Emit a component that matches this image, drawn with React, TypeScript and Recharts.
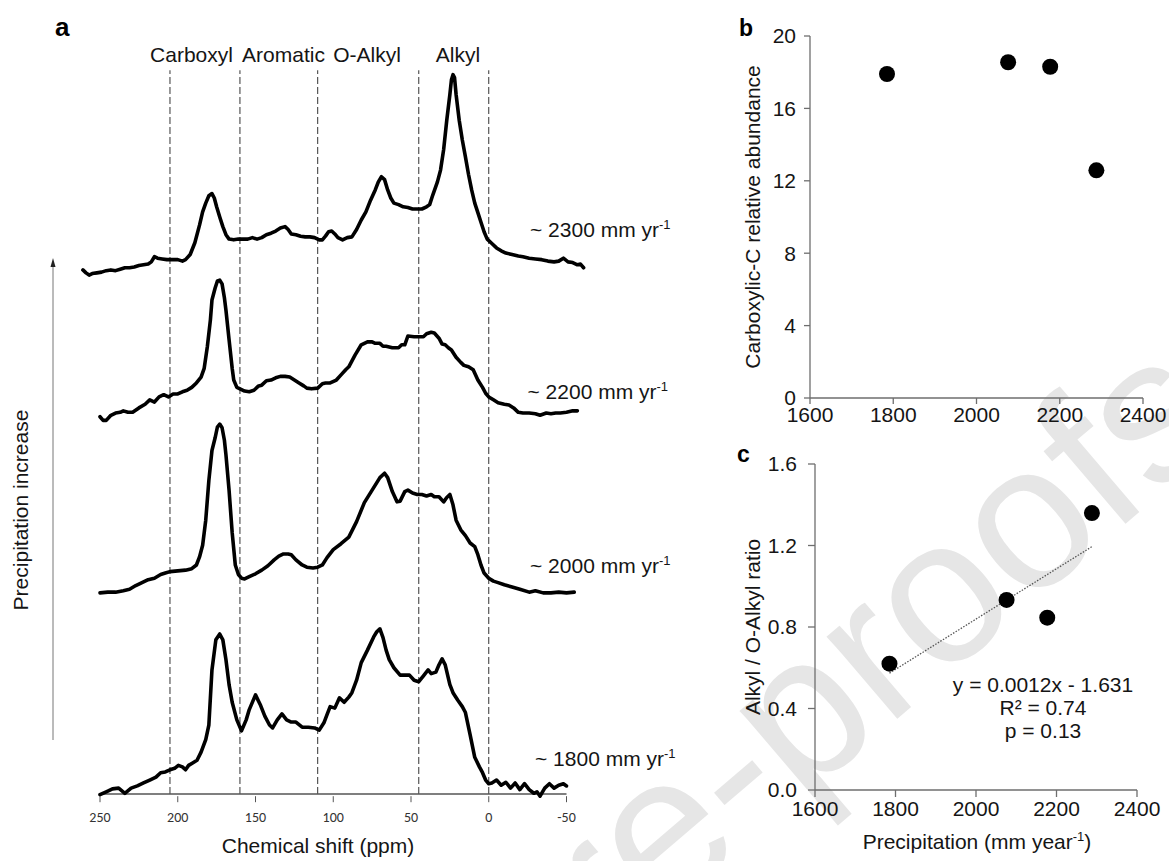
import React from 'react';
import { LineChart, Line, XAxis, YAxis, ReferenceLine, ScatterChart, Scatter } from 'recharts';

const SANS = '"Liberation Sans", Arial, Helvetica, sans-serif';
const TICK_FONT = 'Carlito, Lato, "Liberation Sans", sans-serif';

type Pt = [number, number];

// 13C CPMAS NMR spectra: [chemical shift (ppm), intensity (a.u.)]
const spectrum1800: Pt[] = [
  [250, -1.1], [246, -0.7], [242, -0.3], [238, -0.2], [234, -0.9], [230, -0.2], [226, 0.1], [222, 0.5],
  [218, 0.9], [214, 1.3], [211, 1.9], [208, 2.0], [205, 2.3], [202, 2.5], [199.6, 2.9], [197, 2.7],
  [195, 2.3], [193, 2.9], [190.7, 3.2], [187.6, 3.6], [185, 4.7], [182, 6.4], [180, 8.4], [178, 15.9],
  [175.5, 20.0], [173, 20.8], [171, 20.0], [169, 17.3], [167, 13.9], [165, 11.5], [162, 9.1], [159, 7.6],
  [156, 9.1], [154, 10.5], [150, 12.5], [147, 11.2], [144, 9.6], [141, 8.4], [139, 8.0], [136, 9.1],
  [133, 9.9], [130, 9.1], [127, 8.8], [124, 8.8], [120, 8.1], [116, 8.1], [112, 8.0], [109, 7.7],
  [106, 8.7], [104, 9.8], [102, 10.9], [99, 10.7], [96, 12.1], [93, 11.5], [90, 12.2], [88, 12.8],
  [85, 14.5], [82, 16.9], [78, 18.6], [74, 20.4], [72, 21.1], [70, 21.5], [68, 20.3], [66, 18.6],
  [64, 17.3], [61, 16.2], [57, 15.2], [54, 15.2], [51, 15.2], [48, 14.5], [45, 14.3], [42, 15.1],
  [39, 15.9], [37, 15.4], [34, 15.6], [32, 16.6], [30, 17.4], [28, 16.6], [25, 13.9], [23, 12.8],
  [20, 11.8], [17, 10.9], [15, 10.1], [12, 7.1], [9, 4.0], [6, 2.7], [4, 1.9], [2, 0.9],
  [0, 0.4], [-2, 0.5], [-5, 0.9], [-8, 0.2], [-11, 0.6], [-14, -0.2], [-17, 0.5], [-20, -0.4],
  [-23, 0.4], [-26, -0.4], [-29, -0.9], [-31, -0.7], [-33, -1.3], [-36, -0.2], [-39, 0.4], [-42, -0.2],
  [-45, 0.2], [-48, 0.4], [-50, 0.1],
];

const spectrum2000: Pt[] = [
  [250, 0], [245, 0.1], [240, 0.1], [235, 0.3], [231, 0.5], [227, 1.0], [223, 1.4], [219, 1.8],
  [215, 2.0], [211, 2.5], [208, 2.7], [205, 2.9], [200, 3.0], [195, 3.1], [191, 3.3], [188, 3.8],
  [186, 4.9], [184, 6.5], [182, 9.9], [180, 15.3], [178, 19.4], [176, 21.1], [174.5, 22.6], [173, 23.0],
  [171.5, 22.5], [170, 20.8], [169, 18.8], [167, 14.0], [165, 8.2], [163, 3.8], [161, 2.5], [159, 2.0],
  [157, 1.9], [154, 2.2], [150, 2.6], [146, 3.1], [142, 3.7], [138, 4.5], [135, 5.0], [132, 5.3],
  [129, 5.3], [127, 5.2], [124, 4.5], [120, 3.8], [117, 3.5], [113, 3.4], [110, 3.5], [107, 3.8],
  [104, 4.8], [100, 5.9], [95, 6.7], [90, 7.6], [85, 9.7], [80, 12.3], [75, 14.0], [70, 15.7],
  [67, 16.3], [65, 15.7], [62, 13.8], [59, 12.4], [57, 12.5], [54, 13.8], [52, 14.0], [49, 13.6],
  [46, 13.4], [43, 13.4], [40, 13.2], [37, 13.4], [35, 13.1], [32, 13.1], [29, 12.4], [27, 13.0],
  [25, 13.4], [23, 12.0], [21, 9.9], [18, 8.6], [15, 7.8], [12, 6.8], [9, 6.3], [7, 5.2],
  [5, 3.8], [3, 2.7], [0, 2.0], [-3, 1.6], [-6, 1.4], [-10, 1.1], [-15, 0.8], [-20, 0.5],
  [-26, 0.1], [-30, 0.3], [-35, 0], [-40, 0], [-45, 0.1], [-50, 0], [-55, 0.1],
];

const spectrum2200: Pt[] = [
  [250, -0.5], [248, -1.0], [246, -1.0], [243, -0.3], [240, 0], [237, 0.1], [235, 0.3], [232, 0.1],
  [229, 0.1], [225, 0.7], [221, 1.2], [218, 1.8], [215, 1.5], [212, 2.2], [209, 2.5], [206, 2.2],
  [203, 2.6], [200, 2.6], [197, 2.9], [194, 3.1], [191, 3.5], [188, 4.1], [185, 4.9], [183, 6.1],
  [181, 9.0], [179, 12.7], [178, 15.4], [176, 17.0], [174.5, 18.0], [173, 18.1], [171.5, 17.6], [170, 15.7],
  [169, 14.0], [167, 10.0], [165, 6.1], [164, 4.5], [162, 3.5], [160, 3.3], [157, 3.0], [154, 2.9],
  [151, 3.1], [148, 3.7], [146, 3.8], [143, 4.4], [140, 4.5], [137, 4.8], [134, 5.0], [131, 5.0],
  [128, 4.9], [125, 4.5], [122, 4.1], [119, 3.7], [117, 3.4], [114, 3.3], [110, 3.4], [107, 4.0],
  [105, 4.1], [102, 4.1], [98, 4.5], [95, 5.2], [92, 5.9], [90, 6.3], [86, 7.9], [82, 9.3],
  [78, 9.7], [75, 9.7], [73, 9.5], [70, 9.5], [68, 9.1], [66, 9.1], [62, 8.9], [58, 8.9],
  [56, 9.3], [54, 9.3], [52, 10.5], [48, 10.4], [45, 10.4], [42, 10.4], [40, 10.8], [37, 11.0],
  [35, 10.9], [32, 10.2], [30, 9.4], [28, 9.3], [26, 8.9], [24, 8.6], [21, 7.6], [18, 6.9],
  [16, 6.5], [13, 6.3], [10, 5.9], [7, 4.5], [4, 3.5], [2, 2.7], [0, 2.2], [-3, 1.8],
  [-6, 1.4], [-10, 1.2], [-13, 1.1], [-16, 0.7], [-19, 0.1], [-22, 0], [-26, 0], [-30, -0.1],
  [-33, -0.3], [-37, 0], [-40, -0.1], [-43, 0], [-46, 0], [-50, 0.1], [-54, 0.3], [-57, 0.3],
];

const spectrum2300: Pt[] = [
  [261, -1.1], [259, -1.5], [257, -1.8], [255, -1.6], [252, -1.5], [249, -1.4], [246, -1.2], [243, -1.1],
  [240, -1.2], [237, -1.0], [234, -0.8], [231, -0.8], [228, -0.7], [225, -0.5], [222, -0.4], [219, -0.3],
  [217, 0], [215, 0.7], [213, 0.5], [210, 0.4], [207, 0.3], [204, 0.3], [200, 0.3], [197, 0.1],
  [195, 0.3], [192, 1.0], [189, 2.6], [186, 5.0], [184, 6.8], [182, 8.0], [180, 9.0], [178, 9.3],
  [176.5, 8.7], [175, 7.5], [173, 6.1], [171, 4.8], [169, 3.7], [167, 3.1], [164, 3.0], [161, 3.1],
  [158, 3.1], [155, 3.1], [152, 3.3], [149, 3.1], [146, 3.3], [143, 3.7], [140, 3.9], [137, 4.2],
  [134, 4.6], [131, 4.8], [129, 4.4], [127, 3.8], [124, 3.7], [121, 3.5], [118, 3.4], [115, 3.4],
  [112, 3.3], [109, 3.0], [107, 3.0], [105, 3.5], [103, 4.1], [101, 4.2], [99, 3.8], [97, 3.3],
  [94, 3.0], [91, 3.3], [88, 3.4], [85, 4.4], [82, 5.7], [79, 6.8], [76, 8.4], [73, 9.8],
  [71, 10.9], [69, 11.6], [67, 11.2], [65, 9.8], [63, 8.7], [61, 8.0], [58, 7.8], [55, 7.5],
  [52, 7.4], [49, 7.2], [46, 7.2], [43, 7.2], [40, 7.5], [38, 7.8], [36, 9.1], [33, 10.9],
  [31, 12.5], [29, 15.3], [27, 19.3], [25, 22.8], [24, 24.8], [23, 25.5], [22, 25.1], [21, 22.8],
  [19, 19.3], [17, 16.6], [15, 14.3], [13, 11.9], [11, 9.8], [9, 8.0], [7, 6.7], [5, 5.4],
  [3, 4.1], [1, 3.1], [-2, 2.5], [-5, 1.9], [-8, 1.5], [-11, 1.2], [-15, 1.0], [-19, 0.8],
  [-22, 0.7], [-26, 0.5], [-30, 0.4], [-34, 0.3], [-38, 0.1], [-42, 0], [-45, 0.1], [-48, 0.5],
  [-51, 0], [-54, -0.1], [-57, -0.4], [-59, -0.3], [-61, -0.8],
];

const spectra = [spectrum1800, spectrum2000, spectrum2200, spectrum2300];
// vertical stacking offset of each spectrum (a.u.)
const spectrumOffsets = [1.0, 27.4, 51.9, 72.5];
const precipLabels = ['~ 1800 mm yr', '~ 2000 mm yr', '~ 2200 mm yr', '~ 2300 mm yr'];

const regionBounds = [205, 160, 110, 45, 0];
const regionNames = ['Carboxyl', 'Aromatic', 'O-Alkyl', 'Alkyl'];
const shiftTicks = [250, 200, 150, 100, 50, 0, -50];

// site-level values against mean annual precipitation
const precipitation = [1785, 2076, 2177, 2288];
const carboxylicC = [17.9, 18.55, 18.3, 12.58];
const alkylRatio = [0.62, 0.933, 0.846, 1.359];
const precipTicks = [1600, 1800, 2000, 2200, 2400];
const carboxylTicks = [0, 4, 8, 12, 16, 20];
const ratioTicks = [0, 0.4, 0.8, 1.2, 1.6];

const seriesData = spectra.map((s, i) => s.map(([ppm, v]) => ({ ppm, v: v + spectrumOffsets[i] })));
const carbData = precipitation.map((p, i) => ({ p, c: carboxylicC[i] }));
const ratioData = precipitation.map((p, i) => ({ p, r: alkylRatio[i] }));

function linearFit(xs: number[], ys: number[]) {
  const n = xs.length;
  const mx = xs.reduce((a, b) => a + b, 0) / n;
  const my = ys.reduce((a, b) => a + b, 0) / n;
  let sxy = 0;
  let sxx = 0;
  xs.forEach((x, i) => {
    sxy += (x - mx) * (ys[i] - my);
    sxx += (x - mx) * (x - mx);
  });
  const slope = sxy / sxx;
  return { slope, intercept: my - slope * mx };
}
const fit = linearFit(precipitation, alkylRatio);
const fitX0 = Math.min(...precipitation);
const fitX1 = Math.max(...precipitation);

const BlackDot = (props: any) => <circle cx={props.cx} cy={props.cy} r={8} fill="#000" />;

const axisGray = '#6e6e6e';
const textDark = '#151515';

export default function App() {
  return (
    <div style={{ position: 'absolute', left: 0, top: 0, width: 1169, height: 861, background: '#fff', overflow: 'hidden' }}>
      {/* watermark layer */}
      <svg width={1169} height={861} style={{ position: 'absolute', left: 0, top: 0, zIndex: 0 }}>
        <text
          x={1233}
          y={432}
          textAnchor="end"
          transform="rotate(-40.5 1233 432)"
          fontFamily={SANS}
          fontSize={205}
          fill="#e6e6e6"
        >
          Journal Pre-proofs
        </text>
      </svg>

      {/* panel a: stacked spectra */}
      <div style={{ position: 'absolute', left: 0, top: 0, zIndex: 1 }}>
        <LineChart width={620} height={861} margin={{ top: 60, right: 34.84, bottom: 34.8, left: 81.34 }}>
          <XAxis
            type="number"
            dataKey="ppm"
            domain={[-62, 262]}
            reversed
            ticks={shiftTicks}
            interval={0}
            axisLine={false}
            tickLine={{ stroke: '#555', strokeWidth: 1 }}
            tickSize={6}
            tickMargin={10}
            height={30}
            tick={{ fontSize: 14, fill: '#333', fontFamily: TICK_FONT }}
          />
          <YAxis hide type="number" domain={[-0.3, 100]} />
          {regionBounds.map((b) => (
            <ReferenceLine
              key={b}
              segment={[{ x: b, y: 0 }, { x: b, y: 98.6 }]}
              stroke="#333"
              strokeWidth={1}
              strokeDasharray="7 3"
            />
          ))}
          <ReferenceLine segment={[{ x: 250, y: 0 }, { x: -50, y: 0 }]} stroke="#555" strokeWidth={1.6} />
          {seriesData.map((d, i) => (
            <Line
              key={i}
              data={d}
              dataKey="v"
              type="linear"
              stroke="#000"
              strokeWidth={3.6}
              strokeLinejoin="round"
              strokeLinecap="round"
              dot={false}
              isAnimationActive={false}
            />
          ))}
        </LineChart>
      </div>

      {/* panel b */}
      <div style={{ position: 'absolute', left: 680, top: 0, zIndex: 1 }}>
        <ScatterChart width={489} height={440} margin={{ top: 36, right: 26, bottom: 12, left: 70 }}>
          <XAxis
            type="number"
            dataKey="p"
            domain={[1600, 2400]}
            ticks={precipTicks}
            interval={0}
            height={30}
            axisLine={{ stroke: axisGray, strokeWidth: 1.3 }}
            tickLine={{ stroke: axisGray, strokeWidth: 1.3 }}
            tickSize={6}
            tickMargin={3}
            tick={{ fontSize: 21, fill: textDark, fontFamily: SANS }}
          />
          <YAxis
            type="number"
            dataKey="c"
            domain={[0, 20]}
            ticks={carboxylTicks}
            interval={0}
            width={60}
            axisLine={{ stroke: axisGray, strokeWidth: 1.3 }}
            tickLine={{ stroke: axisGray, strokeWidth: 1.3 }}
            tickSize={6}
            tickMargin={8}
            tick={{ fontSize: 21, fill: textDark, fontFamily: SANS }}
          />
          <Scatter data={carbData} shape={BlackDot} isAnimationActive={false} />
        </ScatterChart>
      </div>

      {/* panel c */}
      <div style={{ position: 'absolute', left: 680, top: 440, zIndex: 1 }}>
        <ScatterChart width={489} height={421} margin={{ top: 24, right: 32, bottom: 41, left: 75 }}>
          <XAxis
            type="number"
            dataKey="p"
            domain={[1600, 2400]}
            ticks={precipTicks}
            interval={0}
            height={30}
            axisLine={{ stroke: axisGray, strokeWidth: 1.3 }}
            tickLine={{ stroke: axisGray, strokeWidth: 1.3 }}
            tickSize={7}
            tickMargin={4}
            tick={{ fontSize: 21, fill: textDark, fontFamily: SANS }}
          />
          <YAxis
            type="number"
            dataKey="r"
            domain={[0, 1.6]}
            ticks={ratioTicks}
            interval={0}
            width={60}
            axisLine={{ stroke: axisGray, strokeWidth: 1.3 }}
            tickLine={{ stroke: axisGray, strokeWidth: 1.3 }}
            tickSize={7}
            tickMargin={11}
            tickFormatter={(v: number) => v.toFixed(1)}
            tick={{ fontSize: 21, fill: textDark, fontFamily: SANS }}
          />
          <ReferenceLine
            segment={[
              { x: fitX0, y: fit.slope * fitX0 + fit.intercept },
              { x: fitX1, y: fit.slope * fitX1 + fit.intercept },
            ]}
            stroke="#555"
            strokeWidth={1.3}
            strokeDasharray="1.5 1.5"
          />
          <Scatter data={ratioData} shape={BlackDot} isAnimationActive={false} />
        </ScatterChart>
      </div>

      {/* annotations */}
      <svg width={1169} height={861} style={{ position: 'absolute', left: 0, top: 0, zIndex: 2, pointerEvents: 'none' }} fontFamily={SANS}>
        <text x={55} y={36} fontSize={26} fontWeight="bold" fill="#000">a</text>
        <text x={739} y={36} fontSize={23} fontWeight="bold" fill="#000">b</text>
        <text x={737} y={462} fontSize={23} fontWeight="bold" fill="#000">c</text>

        {regionNames.map((n, i) => (
          <text key={n} x={[191.5, 283.5, 367, 458][i]} y={62} fontSize={21} textAnchor="middle" fill={textDark}>
            {n}
          </text>
        ))}

        {precipLabels.map((t, i) => (
          <text key={t} x={[535, 530, 527.5, 530][i]} y={[766, 573, 399, 237][i]} fontSize={21} fill={textDark}>
            {t}
            <tspan dy={-8} fontSize={13}>-1</tspan>
          </text>
        ))}

        <line x1={53} y1={740} x2={53} y2={265} stroke="#777" strokeWidth={1} />
        <polygon points="53,258 50.5,267 55.5,267" fill="#222" />
        <text x={28} y={510} fontSize={21} textAnchor="middle" transform="rotate(-90 28 510)" fill={textDark}>
          Precipitation increase
        </text>

        <text x={318} y={853} fontSize={21} textAnchor="middle" fill={textDark}>Chemical shift (ppm)</text>

        <text x={760} y={217} fontSize={21} textAnchor="middle" transform="rotate(-90 760 217)" fill={textDark}>
          Carboxylic-C relative abundance
        </text>
        <text x={760} y={627} fontSize={21} textAnchor="middle" transform="rotate(-90 760 627)" fill={textDark}>
          Alkyl / O-Alkyl ratio
        </text>

        <text x={1043} y={692} fontSize={21} textAnchor="middle" fill={textDark}>y = 0.0012x - 1.631</text>
        <text x={1043} y={715} fontSize={21} textAnchor="middle" fill={textDark}>R² = 0.74</text>
        <text x={1043} y={738} fontSize={21} textAnchor="middle" fill={textDark}>p = 0.13</text>

        <text x={977} y={849} fontSize={21} textAnchor="middle" fill={textDark}>
          Precipitation (mm year
          <tspan dy={-8} fontSize={13}>-1</tspan>
          <tspan dy={8}>)</tspan>
        </text>
      </svg>
    </div>
  );
}
